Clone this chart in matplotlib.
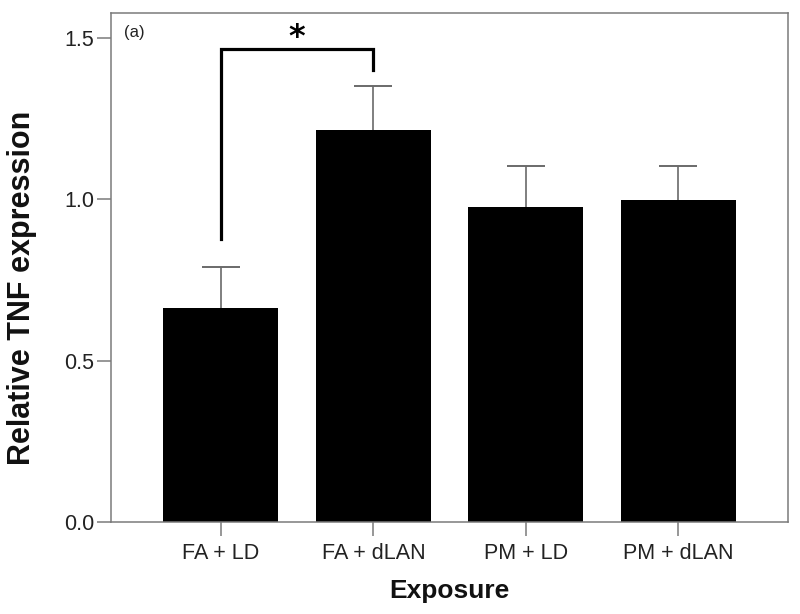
import numpy as np
import matplotlib
matplotlib.use("Agg")
import matplotlib.pyplot as plt

plt.rcParams['font.family'] = ['Liberation Sans', 'DejaVu Sans']

# data
groups = ["FA + LD", "FA + dLAN", "PM + LD", "PM + dLAN"]
means = [0.662, 1.213, 0.977, 0.997]
sem = [0.127, 0.137, 0.127, 0.107]

# significance bracket (FA + LD vs FA + dLAN)
sig_pair = (0, 1)
sig_top = 1.466
sig_ends = (0.877, 1.401)
sig_star_y = 1.50

fig = plt.figure(figsize=(8, 6.14), dpi=100)
ax = fig.add_axes([0.139, 0.150, 0.846, 0.829])

x = np.arange(len(groups))
ax.bar(x, means, width=0.755, color='black', zorder=2)
# symmetric bars drawn under the columns, so only the upper half shows
ax.errorbar(x, means, yerr=sem, fmt='none',
            ecolor='#6a6a6a', elinewidth=1.2, capsize=13.5, capthick=1.4, zorder=1)

# bracket + star
x0, x1 = sig_pair
ax.plot([x0, x0, x1, x1], [sig_ends[0], sig_top, sig_top, sig_ends[1]],
        color='black', lw=2.3, solid_joinstyle='miter', zorder=3)
ax.text((x0 + x1) / 2, sig_star_y, '*', ha='center', va='center',
        fontsize=23, fontweight='bold', family='DejaVu Sans')

ax.text(0.019, 0.962, '(a)', transform=ax.transAxes, ha='left', va='center',
        fontsize=12, color='#222222')

ax.set_xlim(-0.72, 3.72)
ax.set_ylim(0, 1.577)
ax.set_yticks([0.0, 0.5, 1.0, 1.5])
ax.set_yticklabels(['0.0', '0.5', '1.0', '1.5'])
ax.set_xticks(x)
ax.set_xticklabels(groups)

for s in ax.spines.values():
    s.set_color('#7a7a7a')
    s.set_linewidth(1.1)
ax.tick_params(axis='both', length=10, width=1.1, color='#7a7a7a',
               labelsize=15.5, labelcolor='#222222', pad=2)
ax.tick_params(axis='x', pad=5)

ax.set_xlabel('Exposure', fontsize=19, fontweight='bold', labelpad=11, color='#111111')
ax.set_ylabel('Relative TNF expression', fontsize=22, fontweight='bold', color='#111111')
ax.yaxis.set_label_coords(-0.11, 0.46)

fig.savefig('out.png', dpi=100)
